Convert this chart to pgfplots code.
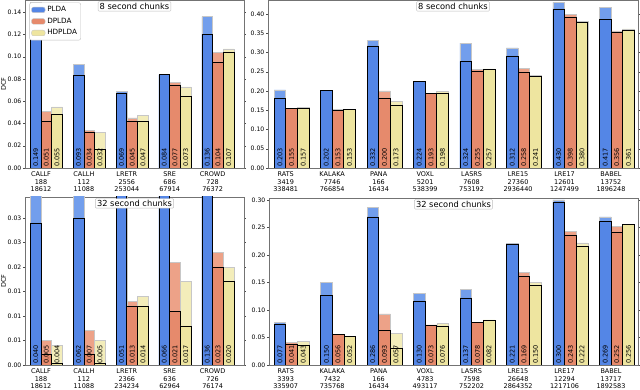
\documentclass[border=0pt]{standalone}
\usepackage{fontspec}
\setmainfont{DejaVu Sans}
\usepackage{pgfplots}
\usepackage{pgfplotstable}
\pgfplotsset{compat=1.18}
\definecolor{pB}{RGB}{84,134,230}
\definecolor{pBl}{RGB}{114,158,236}
\definecolor{pS}{RGB}{230,138,108}
\definecolor{pSl}{RGB}{237,162,136}
\definecolor{pY}{RGB}{238,229,160}
\definecolor{pYl}{RGB}{243,237,186}

\pgfplotstableread{
pos plda pldad dplda dpldad hdplda hdpldad
0 0.149 0.116 0.051 0.042 0.055 0.048
1 0.093 0.083 0.034 0.032 0.032 0.017
2 0.069 0.067 0.045 0.042 0.047 0.042
3 0.084 0.084 0.077 0.074 0.073 0.064
4 0.136 0.120 0.104 0.095 0.107 0.104
}\tA
\pgfplotstableread{
pos plda pldad dplda dpldad hdplda hdpldad
0 0.203 0.181 0.155 0.154 0.157 0.154
1 0.202 0.202 0.153 0.149 0.153 0.152
2 0.332 0.317 0.200 0.182 0.173 0.162
3 0.224 0.224 0.193 0.193 0.198 0.195
4 0.324 0.277 0.255 0.252 0.257 0.256
5 0.312 0.291 0.258 0.248 0.241 0.238
6 0.430 0.413 0.398 0.391 0.380 0.377
7 0.417 0.386 0.356 0.353 0.361 0.358
}\tB
\pgfplotstableread{
pos plda pldad dplda dpldad hdplda hdpldad
0 0.040 0.029 0.005 0.0021 0.004 0.0004
1 0.062 0.030 0.007 0.0021 0.005 0.0004
2 0.051 0.051 0.013 0.0119 0.014 0.0119
3 0.066 0.066 0.021 0.011 0.017 0.008
4 0.136 0.136 0.023 0.020 0.020 0.017
}\tC
\pgfplotstableread{
pos plda pldad dplda dpldad hdplda hdpldad
0 0.077 0.074 0.041 0.037 0.043 0.035
1 0.150 0.127 0.056 0.055 0.052 0.052
2 0.286 0.269 0.093 0.063 0.057 0.031
3 0.130 0.115 0.073 0.072 0.076 0.071
4 0.137 0.122 0.078 0.077 0.082 0.081
5 0.221 0.220 0.169 0.161 0.150 0.145
6 0.300 0.296 0.243 0.236 0.222 0.216
7 0.269 0.261 0.252 0.242 0.256 0.255
}\tD

\pgfplotsset{
 dcf/.style={
  scale only axis, axis line style={black!55},
  ymin=0, tick align=outside, major tick length=2pt,
  x tick style={draw=none}, y tick style={black!70},
  tick label style={font=\fontsize{6.5}{7.7}\selectfont},
  yticklabel style={font=\fontsize{6.1}{7}\selectfont, inner sep=1.5pt},
  xticklabel style={align=center, inner sep=1.5pt},
  /pgf/number format/assume math mode=true,
  scaled y ticks=false,
  yticklabel style={/pgf/number format/fixed,/pgf/number format/fixed zerofill,/pgf/number format/precision=2},
  ylabel style={font=\fontsize{6.5}{7}\selectfont, at={(axis description cs:-0.098,0.5)}, anchor=center},
  legend image code/.code={\draw[##1] (0pt,-2.8pt) rectangle (13.5pt,2.8pt);},
 },
 lbar/.style={ybar, bar width=0.25, bar shift=#1, draw=black!22, line width=0.5pt, forget plot},
 dbar/.style={ybar, bar width=0.25, bar shift=#1, draw=black, line width=0.6pt, forget plot},
 vlab/.style={draw=none, forget plot, nodes near coords, point meta=explicit symbolic,
   nodes near coords style={rotate=90, anchor=west, inner sep=1pt, font=\fontsize{6.5}{7}\selectfont, text=black}},
}

\newcommand{\bars}[1]{%
  \addplot[lbar=-0.125, fill=pBl] table[x=pos,y=plda] {#1};
  \addplot[lbar=0.125, fill=pSl] table[x=pos,y=dplda] {#1};
  \addplot[lbar=0.375, fill=pYl] table[x=pos,y=hdplda] {#1};
  \addplot[dbar=-0.125, fill=pB] table[x=pos,y=pldad] {#1};
  \addplot[dbar=0.125, fill=pS] table[x=pos,y=dpldad] {#1};
  \addplot[dbar=0.375, fill=pY] table[x=pos,y=hdpldad] {#1};
  \addplot[vlab] table[x expr=\thisrow{pos}-0.125, y expr=0, meta=plda] {#1};
  \addplot[vlab] table[x expr=\thisrow{pos}+0.125, y expr=0, meta=dplda] {#1};
  \addplot[vlab] table[x expr=\thisrow{pos}+0.375, y expr=0, meta=hdplda] {#1};
}
\newcommand{\ttl}[1]{\node[draw=black!25, fill=white, rounded corners=1pt, inner sep=1.6pt, anchor=north, font=\fontsize{8.3}{9}\selectfont] at (rel axis cs:0.5,0.992) {#1};}

\begin{document}
\begin{tikzpicture}
\useasboundingbox (0,0) rectangle (640pt,390pt);
% top-left
\begin{axis}[dcf, at={(25pt,222pt)}, anchor=south west, width=219pt, height=168pt,
  xmin=-0.373, xmax=4.732, ymax=0.151,
  ytick={0,0.02,0.04,0.06,0.08,0.10,0.12,0.14},
  xtick={0,...,4},
  xticklabels={{CALLF\\188\\18612},{CALLH\\112\\11088},{LRETR\\2556\\253044},{SRE\\686\\67914},{CROWD\\728\\76372}},
  ylabel={DCF},
  legend style={at={(0.02,0.985)}, anchor=north west, draw=black!25, rounded corners=2pt,
    font=\fontsize{7.2}{8}\selectfont, inner sep=1.8pt, row sep=0.8pt, cells={anchor=west}}]
\bars{\tA}
\addlegendimage{fill=pB, draw=black!22}\addlegendentry{PLDA}
\addlegendimage{fill=pS, draw=black!22}\addlegendentry{DPLDA}
\addlegendimage{fill=pY, draw=black!22}\addlegendentry{HDPLDA}
\ttl{8 second chunks}
\end{axis}
% top-right
\begin{axis}[dcf, at={(268pt,222pt)}, anchor=south west, width=370pt, height=168pt,
  xmin=-0.381, xmax=7.581, ymax=0.436,
  ytick={0,0.05,0.10,0.15,0.20,0.25,0.30,0.35,0.40},
  xtick={0,...,7},
  xticklabels={{RATS\\3419\\338481},{KALAKA\\7746\\766854},{PANA\\166\\16434},{VOXL\\5201\\538399},{LASRS\\7608\\753192},{LRE15\\27360\\2936440},{LRE17\\12601\\1247499},{BABEL\\13752\\1896248}}]
\bars{\tB}
\ttl{8 second chunks}
\end{axis}
% bottom-left
\begin{axis}[dcf, at={(25pt,25pt)}, anchor=south west, width=219pt, height=168pt,
  xmin=-0.373, xmax=4.732, ymax=0.0343,
  ytick={0,0.005,0.010,0.015,0.020,0.025,0.030},
  yticklabels={0.00,0.01,0.01,0.01,0.02,0.03,0.03},
  xtick={0,...,4},
  xticklabels={{CALLF\\188\\18612},{CALLH\\112\\11088},{LRETR\\2366\\234234},{SRE\\636\\62964},{CROWD\\726\\76174}},
  ylabel={DCF}]
\bars{\tC}
\ttl{32 second chunks}
\end{axis}
% bottom-right
\begin{axis}[dcf, at={(269pt,25pt)}, anchor=south west, width=369pt, height=167pt,
  xmin=-0.36, xmax=7.58, ymax=0.3035,
  ytick={0,0.05,0.10,0.15,0.20,0.25,0.30},
  xtick={0,...,7},
  xticklabels={{RATS\\3393\\335907},{KALAKA\\7432\\735768},{PANA\\166\\16434},{VOXL\\4783\\493117},{LASRS\\7598\\752202},{LRE15\\26648\\2864352},{LRE17\\12294\\1217106},{BABEL\\13717\\1892583}}]
\bars{\tD}
\ttl{32 second chunks}
\end{axis}
\end{tikzpicture}
\end{document}
